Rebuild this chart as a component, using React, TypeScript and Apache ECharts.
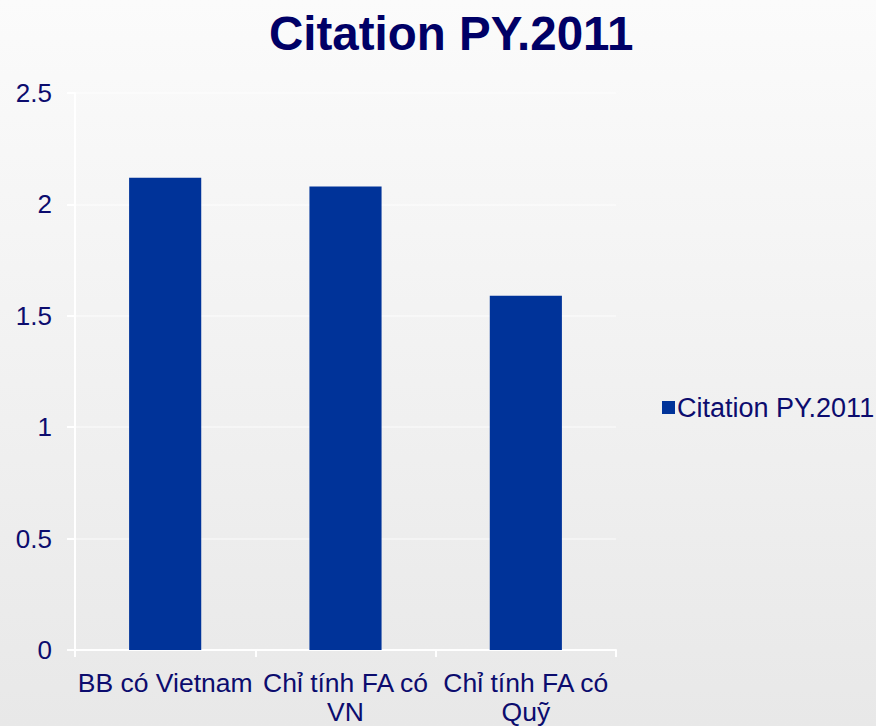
import React, { useEffect, useRef } from "react";
import * as echarts from "echarts";

const titleText = "Citation PY.2011";
const seriesName = "Citation PY.2011";
const categories = ["BB có Vietnam", "Chỉ tính FA có\nVN", "Chỉ tính FA có\nQuỹ"];
const values = [2.12, 2.08, 1.59];
const yMin = 0;
const yMax = 2.5;
const yInterval = 0.5;

const FONT = "'Liberation Sans', Arial, sans-serif";
const NAVY = "#0c0c6e";

export default function App() {
  const ref = useRef<HTMLDivElement>(null);
  useEffect(() => {
    if (!ref.current) return;
    const chart = echarts.init(ref.current, undefined, { renderer: "svg" });
    chart.setOption({
      animation: false,
      backgroundColor: new echarts.graphic.LinearGradient(0, 0, 0, 1, [
        { offset: 0, color: "#fbfbfb" },
        { offset: 1, color: "#e8e8e8" },
      ]),
      textStyle: { fontFamily: FONT },
      title: {
        text: titleText,
        left: 264,
        top: 4,
        textStyle: {
          fontFamily: FONT,
          fontSize: 47.5,
          fontWeight: "bold",
          color: "#000066",
        },
      },
      legend: {
        data: [seriesName],
        left: 657,
        top: 389,
        icon: "rect",
        itemWidth: 13,
        itemHeight: 13,
        itemGap: 8,
        textStyle: { fontFamily: FONT, fontSize: 27, color: NAVY, padding: [0, 0, 0, -3] },
      },
      grid: { left: 75, right: 260, top: 93, bottom: 76, containLabel: false },
      xAxis: {
        type: "category",
        data: categories,
        axisLine: { show: true, lineStyle: { color: "#ffffff", width: 2 } },
        axisTick: { show: true, length: 7, lineStyle: { color: "#ffffff", width: 2 } },
        axisLabel: {
          interval: 0,
          margin: 18,
          fontFamily: FONT,
          fontSize: 26.5,
          lineHeight: 29,
          color: NAVY,
        },
      },
      yAxis: {
        type: "value",
        min: yMin,
        max: yMax,
        interval: yInterval,
        axisLine: { show: true, lineStyle: { color: "#ffffff", width: 2 } },
        axisTick: { show: true, length: 8, lineStyle: { color: "#ffffff", width: 2 } },
        splitLine: { show: true, lineStyle: { color: "rgba(255,255,255,0.55)", width: 1.5 } },
        axisLabel: {
          margin: 23,
          fontFamily: FONT,
          fontSize: 26,
          color: NAVY,
        },
      },
      series: [
        {
          name: seriesName,
          type: "bar",
          data: values,
          barWidth: "40%",
          itemStyle: { color: "#003399" },
        },
      ],
    });
    return () => chart.dispose();
  }, []);
  return (
    <div
      ref={ref}
      style={{ position: "fixed", left: 0, top: 0, width: 876, height: 726 }}
    />
  );
}
